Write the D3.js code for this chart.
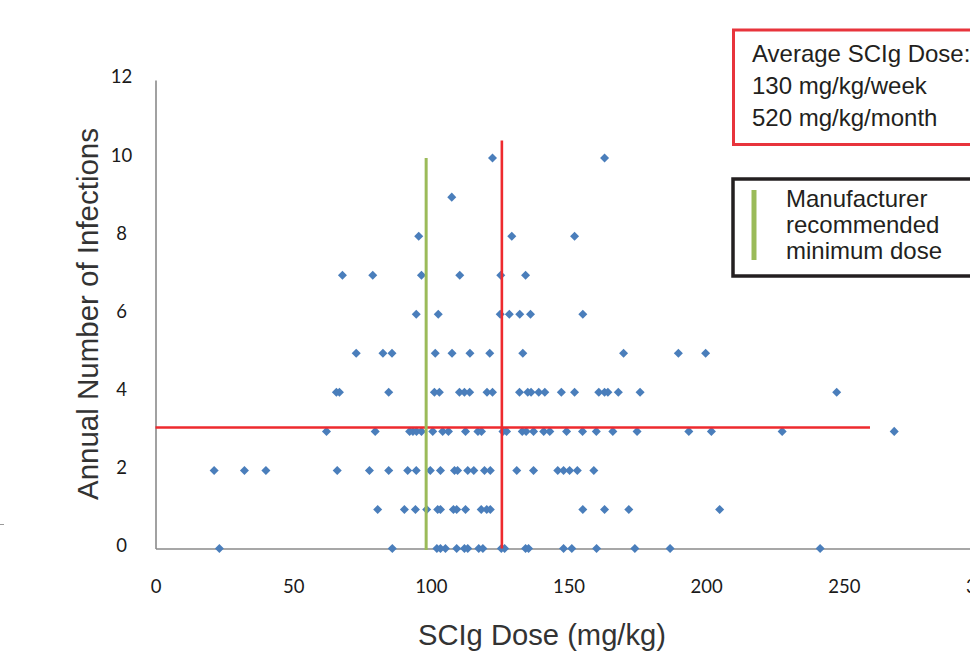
<!DOCTYPE html>
<html>
<head>
<meta charset="utf-8">
<script src="https://cdn.jsdelivr.net/npm/d3@7/dist/d3.min.js"></script>
<style>
  html, body { margin: 0; padding: 0; background: #ffffff; }
  svg { display: block; }
  .tick-label { font-family: Lato, "Open Sans", sans-serif; font-size: 18.5px; fill: #1a1a1a; }
  .axis-title { font-family: "Liberation Sans", Arial, sans-serif; font-size: 29px; fill: #333333; }
  .note { font-family: "Liberation Sans", Arial, sans-serif; font-size: 24px; fill: #231f20; }
</style>
</head>
<body>
<svg id="chart" width="970" height="653"></svg>
<script>
// SCIg dose (mg/kg) of each patient, grouped by annual number of infections
const infectionCounts = [0, 1, 2, 3, 4, 5, 6, 7, 8, 9, 10];
const dosesAt0 = [23.2, 86.0, 102.2, 103.5, 105.3, 109.4, 112.2, 113.4, 117.4, 118.9, 125.6, 126.8, 134.4, 135.5, 148.2, 151.2, 160.2, 174.1, 186.9, 241.4];
const dosesAt1 = [80.7, 90.4, 94.4, 98.5, 102.5, 103.5, 108.2, 109.4, 112.6, 118.3, 120.3, 121.6, 155.2, 163.1, 171.9, 204.9];
const dosesAt2 = [21.3, 32.3, 40.1, 66.0, 77.7, 84.7, 91.6, 94.7, 99.8, 103.5, 108.6, 109.7, 113.4, 115.6, 119.5, 121.6, 131.2, 137.3, 146.1, 148.2, 150.4, 153.2, 159.2];
const dosesAt3 = [62.1, 79.8, 92.3, 93.5, 94.8, 96.6, 100.7, 104.3, 106.4, 112.6, 117.1, 118.4, 126.2, 127.5, 133.2, 134.6, 137.3, 141.0, 143.2, 149.3, 155.1, 160.1, 166.1, 174.9, 193.7, 201.9, 227.6, 268.3];
const dosesAt4 = [65.7, 66.8, 84.7, 101.3, 103.1, 110.4, 112.2, 114.1, 120.4, 122.4, 132.2, 135.2, 136.4, 139.2, 141.4, 147.4, 152.2, 161.0, 163.1, 164.3, 168.1, 176.0, 247.4];
const dosesAt5 = [72.9, 82.6, 85.9, 101.6, 107.7, 114.2, 121.4, 133.4, 170.0, 189.9, 199.8];
const dosesAt6 = [94.7, 102.7, 125.2, 128.5, 132.3, 136.2, 155.2];
const dosesAt7 = [67.9, 78.9, 96.6, 110.5, 125.4, 134.4];
const dosesAt8 = [95.6, 129.4, 152.2];
const dosesAt9 = [107.6];
const dosesAt10 = [122.4, 163.1];
const dosesByCount = [dosesAt0, dosesAt1, dosesAt2, dosesAt3, dosesAt4, dosesAt5, dosesAt6, dosesAt7, dosesAt8, dosesAt9, dosesAt10];

// Axis ticks and titles
const xTicks = [0, 50, 100, 150, 200, 250, 300];
const yTicks = [0, 2, 4, 6, 8, 10, 12];
const xTitle = "SCIg Dose (mg/kg)";
const yTitle = "Annual Number of Infections";

// Reference lines
const averageDose = 125.8;          // red vertical
const averageDoseTop = 10.45;
const averageInfections = 3.1;      // red horizontal
const averageInfectionsEnd = 259.5;
const minimumDose = 98.3;           // green vertical
const minimumDoseTop = 10;

// Notes
const averageNote = ["Average SCIg Dose:", "130 mg/kg/week", "520 mg/kg/month"];
const minimumNote = ["Manufacturer", "recommended", "minimum dose"];

const points = [];
infectionCounts.forEach((n, i) => dosesByCount[i].forEach(d => points.push({ dose: d, infections: n })));

const svg = d3.select("#chart");
const x = d3.scaleLinear().domain([0, 300]).range([155.5, 981.5]);
const y = d3.scaleLinear().domain([0, 12]).range([548.5, 80]);

// stray mark at left edge
svg.append("line").attr("x1", 0).attr("x2", 4).attr("y1", 524.5).attr("y2", 524.5)
  .attr("stroke", "#9a9a9a").attr("stroke-width", 1);

// axes
const xAxis = svg.append("g").attr("transform", `translate(0,${y(0)})`)
  .call(d3.axisBottom(x).tickValues(xTicks).tickSize(0).tickSizeOuter(0).tickPadding(31).tickFormat(d3.format("d")));
const yAxis = svg.append("g").attr("transform", `translate(${x(0)},0)`)
  .call(d3.axisLeft(y).tickValues(yTicks).tickSize(0).tickSizeOuter(0).tickFormat(d3.format("d")));
[xAxis, yAxis].forEach(g => {
  g.select(".domain").attr("stroke", "#8a8a8a").attr("stroke-width", 1.6);
  g.selectAll("text").attr("class", "tick-label").attr("font-size", null).attr("font-family", null).attr("fill", null);
  g.attr("font-size", null).attr("font-family", null);
});
yAxis.selectAll("text").attr("text-anchor", "middle").attr("x", 121.5 - x(0)).attr("y", -3);

// points
svg.append("g").selectAll("path").data(points).join("path")
  .attr("transform", d => `translate(${x(d.dose)},${y(d.infections)})`)
  .attr("d", d3.symbol().type(d3.symbolDiamond2).size(52))
  .attr("fill", "#4a7ebb");

// reference lines
svg.append("line")
  .attr("x1", x(0)).attr("x2", x(averageInfectionsEnd))
  .attr("y1", y(averageInfections)).attr("y2", y(averageInfections))
  .attr("stroke", "#ee2a2e").attr("stroke-width", 2.5);
svg.append("line")
  .attr("x1", x(averageDose)).attr("x2", x(averageDose))
  .attr("y1", y(0)).attr("y2", y(averageDoseTop))
  .attr("stroke", "#ee2a2e").attr("stroke-width", 2.6);
svg.append("line")
  .attr("x1", x(minimumDose)).attr("x2", x(minimumDose))
  .attr("y1", y(0) + 1.5).attr("y2", y(minimumDoseTop))
  .attr("stroke", "#9bbb59").attr("stroke-width", 3);

// axis titles
svg.append("text").attr("class", "axis-title")
  .attr("x", 542).attr("y", 645).attr("text-anchor", "middle")
  .attr("textLength", 248).attr("lengthAdjust", "spacingAndGlyphs").text(xTitle);
svg.append("text").attr("class", "axis-title")
  .attr("transform", "translate(98,314) rotate(-90)")
  .attr("text-anchor", "middle")
  .attr("textLength", 372).attr("lengthAdjust", "spacingAndGlyphs").text(yTitle);

// note boxes
svg.append("rect").attr("x", 733.5).attr("y", 30).attr("width", 300).attr("height", 114.5)
  .attr("fill", "#ffffff").attr("stroke", "#e8343c").attr("stroke-width", 3);
svg.append("g").selectAll("text").data(averageNote).join("text")
  .attr("class", "note").attr("x", 752).attr("y", (d, i) => 62 + i * 32).text(d => d);

svg.append("rect").attr("x", 733).attr("y", 179).attr("width", 300).attr("height", 97)
  .attr("fill", "#ffffff").attr("stroke", "#231f20").attr("stroke-width", 3.5);
svg.append("line").attr("x1", 754).attr("x2", 754).attr("y1", 190).attr("y2", 260)
  .attr("stroke", "#9bbb59").attr("stroke-width", 5);
svg.append("g").selectAll("text").data(minimumNote).join("text")
  .attr("class", "note").attr("x", 786).attr("y", (d, i) => 206.5 + i * 26.3).text(d => d);
</script>
</body>
</html>
